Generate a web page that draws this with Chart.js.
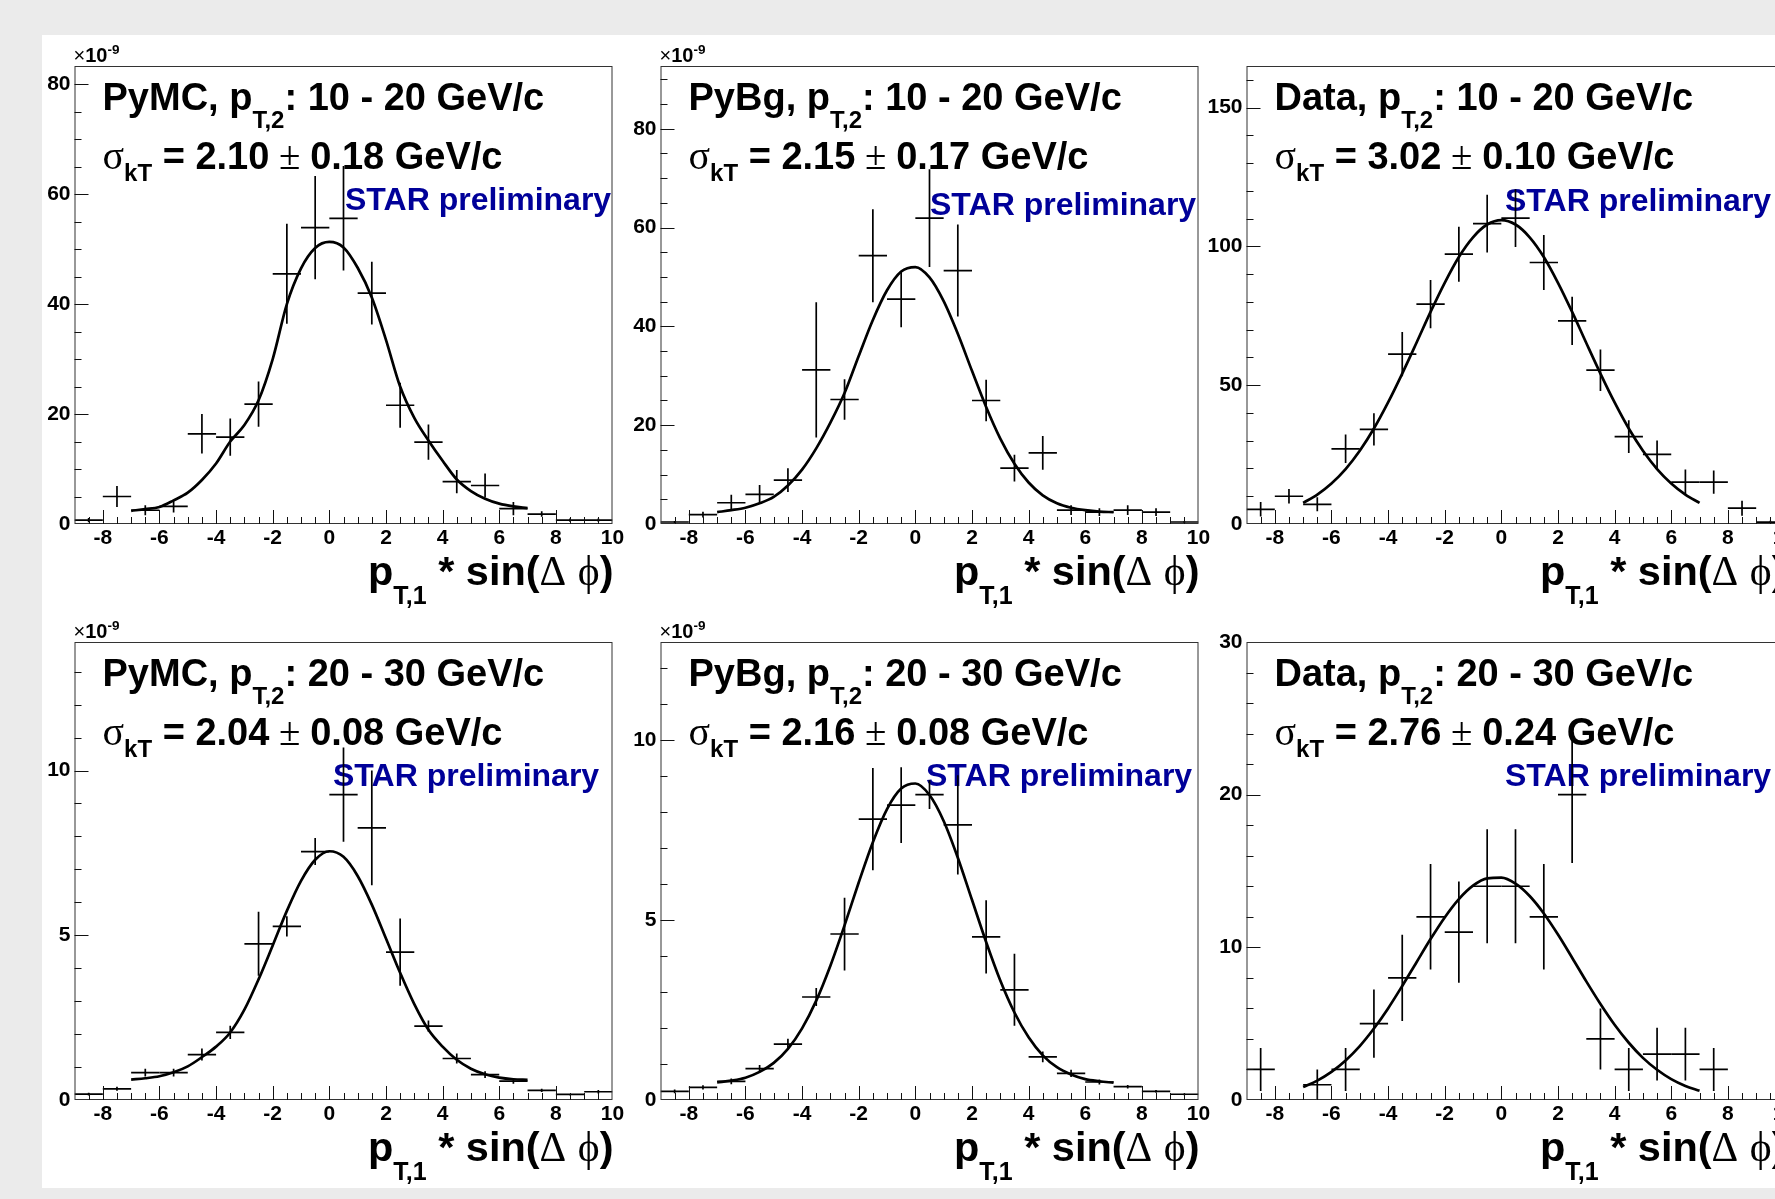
<!DOCTYPE html>
<html>
<head>
<meta charset="utf-8">
<script src="https://cdn.jsdelivr.net/npm/chart.js@4.4.1/dist/chart.umd.min.js"></script>
<style>
  html, body { margin: 0; padding: 0; background: #ebebeb; overflow: hidden; }
  #sheet { position: absolute; left: 42px; top: 35px; width: 1758px; height: 1153px; background: #fff; }
  canvas { position: absolute; }
</style>
</head>
<body>
<div id="sheet"></div>
<script>
// bins of p_T,1 * sin(dphi), width 1
const binCenters = [-8.5, -7.5, -6.5, -5.5, -4.5, -3.5, -2.5, -1.5, -0.5, 0.5, 1.5, 2.5, 3.5, 4.5, 5.5, 6.5, 7.5, 8.5, 9.5];
const binWidth = 1;
const fitX = [-7, -6.5, -6, -5.5, -5, -4.5, -4, -3.5, -3, -2.5, -2, -1.5, -1, -0.5, 0, 0.5, 1, 1.5, 2, 2.5, 3, 3.5, 4, 4.5, 5, 5.5, 6, 6.5, 7];
const xTicks = [-8, -6, -4, -2, 0, 2, 4, 6, 8, 10];

// PyMC, pT2 10-20 (x1e-9)
const pymcLowY   = [0.7, 5.0, 2.5, 3.2, 16.4, 15.8, 21.8, 45.5, 53.9, 55.6, 42.0, 21.6, 14.9, 7.7, 7.0, 2.8, 1.8, 0.7, 0.7];
const pymcLowErr = [0.4, 1.9, 0.9, 1.1, 3.6, 3.4, 4.1, 9.1, 9.4, 9.5, 5.7, 4.1, 3.2, 2.1, 2.2, 1.2, 0.5, 0.3, 0.3];
const pymcLowFit = [2.4, 2.7, 3.1, 4.3, 5.7, 8.0, 11.0, 15.0, 18.0, 22.5, 30.0, 40.0, 46.5, 50.2, 51.3, 50.3, 46.6, 41.2, 33.5, 25.0, 19.3, 15.2, 11.5, 8.1, 6.0, 4.6, 3.7, 3.2, 2.9];

// PyBg, pT2 10-20 (x1e-9)
const pybgLowY   = [0.4, 1.9, 4.3, 6.0, 8.9, 31.2, 25.2, 54.3, 45.5, 61.9, 51.3, 25.0, 11.3, 14.4, 2.8, 2.4, 2.8, 2.4, 0.4];
const pybgLowErr = [0.2, 0.6, 1.6, 1.9, 2.4, 13.7, 4.1, 9.4, 5.7, 9.9, 9.3, 4.2, 2.7, 3.4, 1.0, 0.8, 1.0, 0.8, 0.2];
const pybgLowFit = [2.4, 2.8, 3.3, 4.2, 5.5, 7.8, 11.0, 15.3, 20.5, 26.5, 34.0, 41.3, 47.3, 51.1, 52.0, 49.9, 45.1, 38.5, 31.0, 23.7, 17.3, 12.2, 8.4, 5.8, 4.2, 3.3, 2.8, 2.5, 2.4];

// Data, pT2 10-20
const dataLowY   = [5.3, 10.0, 7.1, 27.1, 34.1, 61.2, 79.2, 97.2, 108.2, 110.2, 94.2, 73.2, 55.4, 31.5, 25.1, 15.1, 15.1, 5.7, 0.7];
const dataLowErr = [2.6, 2.6, 2.5, 5.1, 5.8, 8.0, 8.7, 9.9, 10.4, 10.4, 9.9, 8.7, 7.5, 5.9, 5.0, 4.5, 4.2, 2.7, 0.5];
const dataLowFit = [7.6, 10.6, 14.6, 19.8, 26.4, 34.4, 43.8, 54.2, 65.2, 76.4, 86.9, 96.2, 103.3, 107.9, 109.5, 107.9, 103.3, 96.2, 86.9, 76.4, 65.2, 54.2, 43.8, 34.4, 26.4, 19.8, 14.6, 10.6, 7.6];

// PyMC, pT2 20-30 (x1e-9)
const pymcHighY   = [0.18, 0.34, 0.83, 0.83, 1.38, 2.05, 4.74, 5.27, 7.54, 9.27, 8.26, 4.49, 2.24, 1.26, 0.77, 0.57, 0.29, 0.17, 0.25];
const pymcHighErr = [0.04, 0.06, 0.12, 0.12, 0.18, 0.2, 0.97, 0.31, 0.41, 1.43, 1.74, 1.02, 0.17, 0.15, 0.1, 0.08, 0.05, 0.03, 0.05];
const pymcHighFit = [0.62, 0.66, 0.72, 0.84, 1.02, 1.30, 1.62, 2.05, 2.74, 3.66, 4.69, 5.74, 6.65, 7.29, 7.55, 7.38, 6.80, 5.93, 4.90, 3.86, 2.91, 2.13, 1.62, 1.22, 0.95, 0.78, 0.68, 0.63, 0.61];

// PyBg, pT2 20-30 (x1e-9)
const pybgHighY   = [0.24, 0.35, 0.52, 0.87, 1.55, 2.86, 4.61, 7.80, 8.19, 8.48, 7.64, 4.53, 3.06, 1.20, 0.74, 0.50, 0.37, 0.24, 0.16];
const pybgHighErr = [0.05, 0.06, 0.08, 0.1, 0.15, 0.25, 1.01, 1.42, 1.05, 0.4, 1.38, 1.02, 1.0, 0.15, 0.1, 0.07, 0.05, 0.04, 0.03];
const pybgHighFit = [0.49, 0.54, 0.62, 0.78, 1.03, 1.42, 1.99, 2.76, 3.73, 4.85, 6.04, 7.16, 8.08, 8.65, 8.79, 8.47, 7.75, 6.73, 5.56, 4.39, 3.32, 2.43, 1.74, 1.24, 0.91, 0.71, 0.58, 0.52, 0.48];

// Data, pT2 20-30 (empty bins = null)
const dataHighY   = [2, null, 1, 2, 5, 8, 12, 11, 14, 14, 12, 20, 4, 2, 3, 3, 2, null, null];
const dataHighErr = [1.41, null, 1.0, 1.41, 2.24, 2.83, 3.46, 3.32, 3.74, 3.74, 3.46, 4.47, 2.0, 1.41, 1.73, 1.73, 1.41, null, null];
const dataHighFit = [0.85, 1.27, 1.84, 2.59, 3.53, 4.68, 6.00, 7.47, 9.01, 10.54, 11.96, 13.16, 14.04, 14.52, 14.56, 14.17, 13.36, 12.22, 10.84, 9.32, 7.77, 6.29, 4.93, 3.75, 2.76, 1.98, 1.37, 0.92, 0.60];

const sampleNames = ['PyMC', 'PyBg', 'Data', 'PyMC', 'PyBg', 'Data'];
const ptRanges = ['10 - 20', '10 - 20', '10 - 20', '20 - 30', '20 - 30', '20 - 30'];
const sigmaVals = ['2.10', '2.15', '3.02', '2.04', '2.16', '2.76'];
const sigmaErrs = ['0.18', '0.17', '0.10', '0.08', '0.08', '0.24'];
const yMaxes = [83.3, 92.7, 165, 13.9, 12.72, 30];
const yTickSets = [[0, 20, 40, 60, 80], [0, 20, 40, 60, 80], [0, 50, 100, 150], [0, 5, 10], [0, 5, 10], [0, 10, 20, 30]];
const yMinorSteps = [5, 5, 10, 1, 1, 2];
const showExponent = [true, true, false, true, true, false];

const histValues = [pymcLowY, pybgLowY, dataLowY, pymcHighY, pybgHighY, dataHighY];
const histErrors = [pymcLowErr, pybgLowErr, dataLowErr, pymcHighErr, pybgHighErr, dataHighErr];
const fitValues = [pymcLowFit, pybgLowFit, dataLowFit, pymcHighFit, pybgHighFit, dataHighFit];

// where "STAR preliminary" sits in each pad (left, baseline)
const starPos = [[303, 175], [302, 180], [291, 176], [291, 175], [298, 175], [291, 175]];

const SANS = '"Liberation Sans", Arial, Helvetica, sans-serif';
const SERIF = '"Liberation Serif", "DejaVu Serif", serif';
const B = s => `bold ${s}px ${SANS}`;
const S = s => `${s}px ${SERIF}`;

const PAD_W = 586, PAD_H = 576, EXTRA = 12;

function richWidth(ctx, parts) {
    let w = 0;
    parts.forEach(([t, f]) => { ctx.font = f; w += ctx.measureText(t).width; });
    return w;
}
function drawRich(ctx, x, y, parts) {
    let cx = x;
    parts.forEach(([t, f, dy]) => {
        ctx.font = f;
        ctx.fillText(t, cx, y + dy);
        cx += ctx.measureText(t).width;
    });
}

const rootPad = {
    id: 'rootPad',
    beforeDatasetsDraw(chart, args, o) {
        const ctx = chart.ctx, a = chart.chartArea;
        ctx.save();
        ctx.textAlign = 'left';
        ctx.textBaseline = 'alphabetic';
        ctx.fillStyle = '#000';
        const tx = a.left + 28;
        drawRich(ctx, tx, a.top + 44, [[o.name + ', p', B(38), 0], ['T,2', B(24), 18], [': ' + o.range + ' GeV/c', B(38), 0]]);
        drawRich(ctx, tx, a.top + 103, [['σ', S(40), 0], ['kT', B(24), 12], [' = ' + o.sigma, B(38), 0], [' ± ', S(39), 0], [o.sigmaErr + ' GeV/c', B(38), 0]]);

        // axis title, right aligned to the frame
        const title = [['p', B(41.5), 0], ['T,1', B(25), 18.5], [' * sin(', B(41.5), 0], ['Δ', S(41.5), 0], [' ', B(41.5), 0], ['ϕ', S(41.5), 0], [')', B(41.5), 0]];
        drawRich(ctx, a.right + 1 - richWidth(ctx, title), a.bottom + 61, title);

        if (o.exponent) {
            drawRich(ctx, a.left - 1, a.top - 4, [['×', `20px ${SANS}`, 0], ['10', B(20), 0], ['-9', B(13.5), -8]]);
        }

        ctx.fillStyle = '#000099';
        ctx.font = B(32);
        ctx.fillText('STAR preliminary', o.star[0] + EXTRA, o.star[1]);
        ctx.restore();
    },
    afterDatasetsDraw(chart, args, o) {
        const ctx = chart.ctx, a = chart.chartArea;
        const xs = chart.scales.x, ys = chart.scales.y;

        // error-bar crosses
        ctx.save();
        ctx.beginPath();
        ctx.rect(a.left, a.top, a.right - a.left, a.bottom - a.top);
        ctx.clip();
        ctx.strokeStyle = '#000';
        ctx.lineWidth = 1.7;
        chart.data.datasets.forEach(ds => {
            if (!ds.errorBars) return;
            ds.data.forEach(p => {
                const px = xs.getPixelForValue(p.x), py = ys.getPixelForValue(p.y);
                ctx.beginPath();
                ctx.moveTo(xs.getPixelForValue(p.x - binWidth / 2), py);
                ctx.lineTo(xs.getPixelForValue(p.x + binWidth / 2), py);
                ctx.moveTo(px, ys.getPixelForValue(p.y - p.e));
                ctx.lineTo(px, ys.getPixelForValue(p.y + p.e));
                ctx.stroke();
            });
        });
        ctx.restore();

        // frame and inward ticks
        ctx.save();
        ctx.strokeStyle = '#333';
        ctx.lineWidth = 1;
        ctx.strokeRect(a.left + 0.5, a.top + 0.5, a.right - a.left - 1, a.bottom - a.top - 1);
        ctx.strokeStyle = '#111';
        ctx.beginPath();
        for (let v = xs.min + 0.5; v < xs.max; v += 0.5) {
            const px = Math.round(xs.getPixelForValue(v)) + 0.5;
            const len = (Math.abs(v) % 2 === 0) ? 14 : 7;
            ctx.moveTo(px, a.bottom);
            ctx.lineTo(px, a.bottom - len);
        }
        for (let v = o.minor; v < ys.max; v += o.minor) {
            const py = Math.round(ys.getPixelForValue(v)) + 0.5;
            const len = o.major.includes(v) ? 14 : 7;
            ctx.moveTo(a.left, py);
            ctx.lineTo(a.left + len, py);
        }
        ctx.stroke();
        ctx.restore();
    }
};

const sheetLeft = 42, sheetTop = 35;

for (let i = 0; i < 6; i++) {
    const col = i % 3, row = Math.floor(i / 3);
    const cv = document.createElement('canvas');
    cv.width = PAD_W + EXTRA;
    cv.height = PAD_H;
    cv.style.left = (sheetLeft + col * PAD_W - EXTRA) + 'px';
    cv.style.top = (sheetTop + row * PAD_H) + 'px';
    document.body.appendChild(cv);

    const hist = [];
    binCenters.forEach((x, k) => {
        if (histValues[i][k] !== null) hist.push({ x: x, y: histValues[i][k], e: histErrors[i][k] });
    });
    const fit = fitX.map((x, k) => ({ x: x, y: fitValues[i][k] }));
    const yTicks = yTickSets[i];

    new Chart(cv, {
        type: 'scatter',
        data: {
            datasets: [
                { data: hist, errorBars: true, pointRadius: 0, showLine: false },
                { data: fit, showLine: true, pointRadius: 0, borderColor: '#000', borderWidth: 2.7, cubicInterpolationMode: 'monotone', fill: false }
            ]
        },
        options: {
            responsive: false,
            animation: false,
            events: [],
            layout: { padding: { left: 0, right: 15.5, top: 31, bottom: 0 } },
            plugins: {
                legend: { display: false },
                tooltip: { enabled: false },
                rootPad: {
                    name: sampleNames[i], range: ptRanges[i], sigma: sigmaVals[i], sigmaErr: sigmaErrs[i],
                    star: starPos[i], exponent: showExponent[i], minor: yMinorSteps[i], major: yTicks
                }
            },
            scales: {
                x: {
                    type: 'linear', min: -9, max: 10,
                    grid: { display: false, drawTicks: false },
                    border: { display: false },
                    afterBuildTicks: s => { s.ticks = xTicks.map(v => ({ value: v })); },
                    afterFit: s => { s.height = 87; s.paddingLeft = 0; s.paddingRight = 0; },
                    ticks: { autoSkip: false, maxRotation: 0, padding: 2, color: '#000', font: { family: SANS, size: 21, weight: 'bold' }, callback: v => String(v) }
                },
                y: {
                    type: 'linear', min: 0, max: yMaxes[i],
                    grid: { display: false, drawTicks: false },
                    border: { display: false },
                    afterBuildTicks: s => { s.ticks = yTicks.map(v => ({ value: v })); },
                    afterFit: s => { s.width = 32.5 + EXTRA; s.paddingTop = 0; s.paddingBottom = 0; },
                    ticks: { autoSkip: false, padding: 4, color: '#000', font: { family: SANS, size: 21, weight: 'bold' }, callback: v => String(v) }
                }
            }
        },
        plugins: [rootPad]
    });
}
</script>
</body>
</html>
